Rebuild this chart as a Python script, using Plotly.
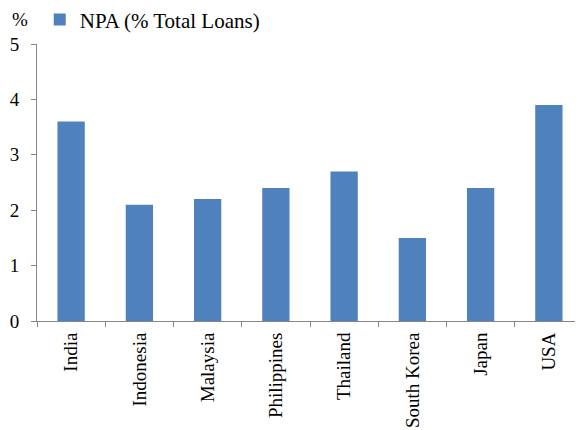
import plotly.graph_objects as go

countries = ["India", "Indonesia", "Malaysia", "Philippines", "Thailand",
             "South Korea", "Japan", "USA"]
npa_values = [3.6, 2.1, 2.2, 2.4, 2.7, 1.5, 2.4, 3.9]

font_family = "Liberation Serif, Times New Roman, serif"
axis_grey = "#868686"

fig = go.Figure()
fig.add_trace(go.Bar(
    x=countries,
    y=npa_values,
    name="NPA (% Total Loans)",
    marker=dict(color="#4F81BD", line=dict(width=0)),
))

# page body has an 8px margin, so the figure is sized to fit the window
fig.update_layout(
    width=575, height=422,
    margin=dict(l=29, r=0, t=36, b=109, autoexpand=False),
    paper_bgcolor="white", plot_bgcolor="white",
    font=dict(family=font_family, size=19, color="black"),
    bargap=0.6,
    showlegend=True,
    legend=dict(orientation="h", x=0.005, xanchor="left", y=1.087, yanchor="middle",
                font=dict(size=21), itemwidth=30, bgcolor="rgba(0,0,0,0)"),
)

fig.update_xaxes(
    type="category", tickangle=-90,
    showline=True, linecolor=axis_grey, linewidth=1,
    ticks="outside", tickson="boundaries", ticklen=5, tickcolor=axis_grey,
    ticklabelstandoff=3,
    showgrid=False, zeroline=False,
)
fig.update_yaxes(
    range=[0, 5], dtick=1,
    showline=True, linecolor=axis_grey, linewidth=1,
    ticks="outside", ticklen=5, tickcolor=axis_grey,
    ticklabelstandoff=8,
    showgrid=False, zeroline=False,
)

fig.add_annotation(text="%", xref="paper", yref="paper", x=-0.05, y=1.09,
                   xanchor="left", yanchor="middle", showarrow=False,
                   font=dict(size=19, family=font_family))

fig.write_html("out.html")
